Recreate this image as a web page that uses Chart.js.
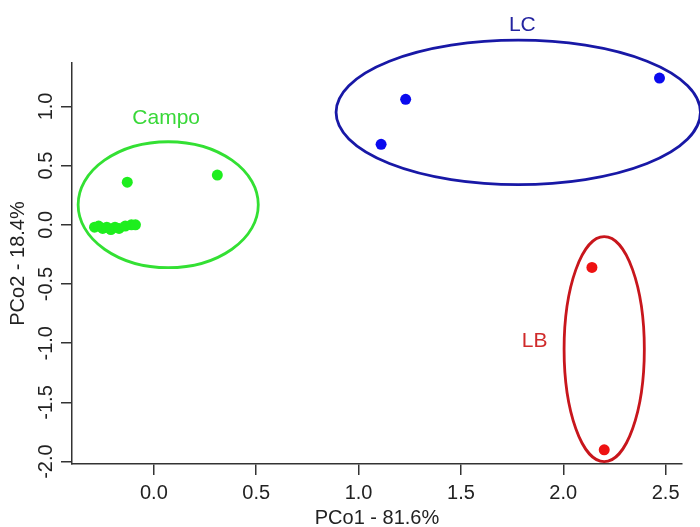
<!DOCTYPE html>
<html>
<head>
<meta charset="utf-8">
<script src="https://cdn.jsdelivr.net/npm/chart.js@4/dist/chart.umd.min.js"></script>
<style>
    html, body { margin: 0; padding: 0; background: #fff; }
    #wrap { width: 700px; height: 527px; }
</style>
</head>
<body>
<div id="wrap"><canvas id="pcoaChart"></canvas></div>
<script>
// PCoA scores per group
const groups = ["Campo", "LC", "LB"];
const campoX = [-0.29, -0.27, -0.25, -0.23, -0.21, -0.19, -0.17, -0.14, -0.11, -0.09, -0.13, 0.31];
const campoY = [-0.02, -0.01, -0.03, -0.02, -0.04, -0.02, -0.03, -0.01, 0.0, 0.0, 0.36, 0.42];
const lcX = [1.11, 1.23, 2.47];
const lcY = [0.68, 1.06, 1.24];
const lbX = [2.14, 2.2];
const lbY = [-0.36, -1.9];

// group ellipses: centre and semi-axes in axis units
const ellipseCX = [0.07, 1.78, 2.2];
const ellipseCY = [0.17, 0.95, -1.05];
const ellipseRX = [0.44, 0.89, 0.196];
const ellipseRY = [0.532, 0.61, 0.95];

// group name anchors
const labelX = [0.06, 1.8, 1.86];
const labelY = [0.9, 1.69, -0.985];

const xTicks = [0, 0.5, 1, 1.5, 2, 2.5];
const yTicks = [-2, -1.5, -1, -0.5, 0, 0.5, 1];

const pointColors = ["#1eee1e", "#0a0aee", "#ee1212"];
const ringColors = ["#33e033", "#1818a6", "#c8161c"];
const textColors = ["#38d838", "#2424a0", "#d02a2a"];

const FONT = '"Liberation Sans", Arial, sans-serif';

function toPoints(xs, ys) {
    return xs.map((x, i) => ({ x: x, y: ys[i] }));
}

// ellipses and group names, placed through the chart scales
const groupOverlay = {
    id: "groupOverlay",
    afterDatasetsDraw(chart) {
        const { ctx, scales } = chart;
        const sx = scales.x;
        const sy = scales.y;
        ctx.save();
        groups.forEach((name, i) => {
            const cx = sx.getPixelForValue(ellipseCX[i]);
            const cy = sy.getPixelForValue(ellipseCY[i]);
            const rx = Math.abs(sx.getPixelForValue(ellipseCX[i] + ellipseRX[i]) - cx);
            const ry = Math.abs(sy.getPixelForValue(ellipseCY[i] + ellipseRY[i]) - cy);
            ctx.beginPath();
            ctx.ellipse(cx, cy, rx, ry, 0, 0, Math.PI * 2);
            ctx.strokeStyle = ringColors[i];
            ctx.lineWidth = 2.8;
            ctx.stroke();

            ctx.font = "21px " + FONT;
            ctx.textAlign = "center";
            ctx.textBaseline = "middle";
            ctx.fillStyle = textColors[i];
            ctx.fillText(name, sx.getPixelForValue(labelX[i]), sy.getPixelForValue(labelY[i]));
        });
        ctx.restore();
    },
};

const data = {
    datasets: [
        { label: groups[0], data: toPoints(campoX, campoY), backgroundColor: pointColors[0] },
        { label: groups[1], data: toPoints(lcX, lcY), backgroundColor: pointColors[1] },
        { label: groups[2], data: toPoints(lbX, lbY), backgroundColor: pointColors[2] },
    ],
};

const axisGrid = {
    drawOnChartArea: false,
    drawTicks: true,
    tickLength: 11,
    color: "#333",
    lineWidth: 1.5,
};

const config = {
    type: "scatter",
    data: data,
    options: {
        responsive: true,
        maintainAspectRatio: false,
        animation: false,
        layout: { padding: { left: 0, top: 63, right: 18, bottom: 0 } },
        elements: {
            point: { radius: 5.5, borderWidth: 0, hoverRadius: 5.5 },
        },
        plugins: {
            legend: { display: false },
            tooltip: { enabled: false },
        },
        scales: {
            x: {
                type: "linear",
                min: -0.4,
                max: 2.58,
                grid: axisGrid,
                border: { display: true, color: "#333", width: 1.5 },
                afterBuildTicks(scale) {
                    scale.ticks = xTicks.map((v) => ({ value: v }));
                },
                afterFit(scale) {
                    scale.height = 63;
                },
                ticks: {
                    color: "#222",
                    padding: 6,
                    maxRotation: 0,
                    font: { family: FONT, size: 20 },
                    callback: (v) => Number(v).toFixed(1),
                },
                title: {
                    display: true,
                    text: "PCo1 - 81.6%",
                    color: "#222",
                    padding: { top: 0, bottom: -3 },
                    font: { family: FONT, size: 20 },
                },
            },
            y: {
                type: "linear",
                min: -2.02,
                max: 1.367,
                grid: axisGrid,
                border: { display: true, color: "#333", width: 1.5 },
                afterBuildTicks(scale) {
                    scale.ticks = yTicks.map((v) => ({ value: v }));
                },
                afterFit(scale) {
                    scale.width = 72;
                },
                ticks: {
                    color: "#222",
                    padding: -3,
                    minRotation: 90,
                    maxRotation: 90,
                    crossAlign: "center",
                    font: { family: FONT, size: 20 },
                    callback: (v) => Number(v).toFixed(1),
                },
                title: {
                    display: true,
                    text: "PCo2 - 18.4%",
                    color: "#222",
                    padding: { top: 6, bottom: 0 },
                    font: { family: FONT, size: 20 },
                },
            },
        },
    },
    plugins: [groupOverlay],
};

const ctx = document.getElementById("pcoaChart").getContext("2d");
new Chart(ctx, config);
</script>
</body>
</html>
